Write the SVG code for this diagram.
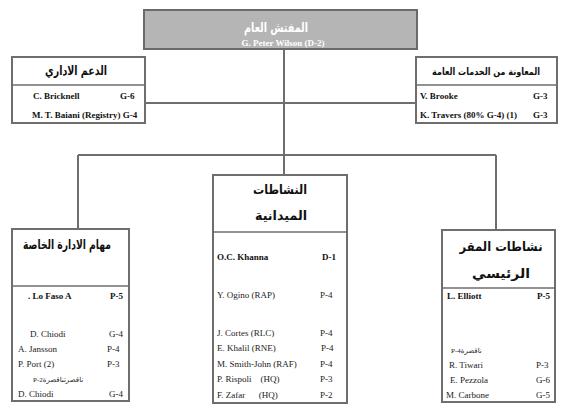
<svg xmlns="http://www.w3.org/2000/svg" width="567" height="413" viewBox="0 0 567 413">
<style>
.box{fill:#fff;stroke:#6e6e6e;stroke-width:2}
.div{stroke:#6e6e6e;stroke-width:1.5}
.ln{stroke:#6e6e6e;stroke-width:2;fill:none}
.ar{font-family:"DejaVu Sans",sans-serif;font-weight:bold;font-size:13px;fill:#111;text-anchor:middle}
.t{font-family:"Liberation Serif",serif;font-size:9px;fill:#222}
.b{font-family:"Liberation Serif",serif;font-size:9px;font-weight:bold;fill:#111}
.s{font-family:"Liberation Serif","DejaVu Sans",serif;font-size:7px;fill:#222}
</style>
<g id="connectors">
<line class="ln" x1="284" y1="50" x2="284" y2="155"/>
<line class="ln" x1="145" y1="103" x2="416" y2="103"/>
<line class="ln" x1="78" y1="155" x2="496" y2="155"/>
<line class="ln" x1="78" y1="155" x2="78" y2="229"/>
<line class="ln" x1="284" y1="155" x2="284" y2="175"/>
<line class="ln" x1="496" y1="155" x2="496" y2="230"/>
</g>
<g id="top">
<rect x="144" y="10" width="273" height="39" fill="#b5b5b5" stroke="#6a6a6a" stroke-width="2"/>
<text x="276" y="32" class="ar" style="fill:#fff" textLength="64" lengthAdjust="spacingAndGlyphs">المفتش العام</text>
<text x="283" y="46" class="b" text-anchor="middle" style="fill:#fff">G. Peter Wilson (D-2)</text>
</g>
<g id="admin">
<rect class="box" x="12" y="57" width="133" height="66"/>
<line class="div" x1="12" y1="85" x2="145" y2="85"/>
<text x="76" y="75" class="ar" textLength="62" lengthAdjust="spacingAndGlyphs">الدعم الاداري</text>
<text x="33" y="99" class="b">C.  Bricknell</text>
<text x="120" y="99" class="b">G-6</text>
<text x="32" y="118" class="b">M. T. Baiani (Registry) G-4</text>
</g>
<g id="general">
<rect class="box" x="416" y="57" width="141" height="66"/>
<line class="div" x1="416" y1="85" x2="557" y2="85"/>
<text x="486" y="75" class="ar" style="font-size:10px" textLength="108" lengthAdjust="spacingAndGlyphs">المعاونة من الخدمات العامة</text>
<text x="420" y="99" class="b">V.  Brooke</text>
<text x="533" y="99" class="b">G-3</text>
<text x="420" y="118" class="b">K. Travers (80% G-4) (1)</text>
<text x="533" y="118" class="b">G-3</text>
</g>
<g id="special">
<rect class="box" x="12" y="229" width="117" height="172"/>
<line class="div" x1="12" y1="286" x2="129" y2="286"/>
<text x="67" y="249" class="ar" textLength="88" lengthAdjust="spacingAndGlyphs">مهام الادارة الخاصة</text>
<text x="28" y="299" class="b">. Lo Faso A</text>
<text x="110" y="299" class="b">P-5</text>
<text x="30" y="337" class="t">D. Chiodi</text>
<text x="109" y="337" class="t">G-4</text>
<text x="18" y="352" class="t">A. Jansson</text>
<text x="107" y="352" class="t">P-4</text>
<text x="18" y="367" class="t">P. Port (2)</text>
<text x="107" y="367" class="t">P-3</text>
<text x="33" y="382" class="s">P-2ناقصرتناقصرة</text>
<text x="18" y="397" class="t">D. Chiodi</text>
<text x="109" y="397" class="t">G-4</text>
</g>
<g id="field">
<rect class="box" x="213" y="175" width="134" height="228"/>
<line class="div" x1="213" y1="232" x2="347" y2="232"/>
<text x="280" y="194" class="ar" textLength="54" lengthAdjust="spacingAndGlyphs">النشاطات</text>
<text x="281" y="220" class="ar" textLength="52" lengthAdjust="spacingAndGlyphs">الميدانية</text>
<text x="217" y="260" class="b">O.C. Khanna</text>
<text x="322" y="260" class="b">D-1</text>
<text x="217" y="298" class="t">Y. Ogino (RAP)</text>
<text x="320" y="298" class="t">P-4</text>
<text x="217" y="336" class="t">J. Cortes (RLC)</text>
<text x="320" y="336" class="t">P-4</text>
<text x="217" y="351" class="t">E. Khalil  (RNE)</text>
<text x="321" y="351" class="t">P-4</text>
<text x="217" y="367" class="t">M. Smith-John (RAF)</text>
<text x="320" y="367" class="t">P-4</text>
<text x="217" y="382" class="t" xml:space="preserve">P. Rispoli    (HQ)</text>
<text x="320" y="382" class="t">P-3</text>
<text x="217" y="398" class="t" xml:space="preserve">F. Zafar      (HQ)</text>
<text x="320" y="398" class="t">P-2</text>
</g>
<g id="hq">
<rect class="box" x="442" y="230" width="113" height="172"/>
<line class="div" x1="442" y1="288" x2="555" y2="288"/>
<text x="501" y="251" class="ar" textLength="83" lengthAdjust="spacingAndGlyphs">نشاطات المقر</text>
<text x="501" y="278" class="ar" textLength="58" lengthAdjust="spacingAndGlyphs">الرئيسي</text>
<text x="447" y="299" class="b">L. Elliott</text>
<text x="537" y="299" class="b">P-5</text>
<text x="451" y="353" class="s">P-4ناقصرة</text>
<text x="449" y="368" class="t">R. Tiwari</text>
<text x="536" y="368" class="t">P-3</text>
<text x="450" y="383" class="t">E. Pezzola</text>
<text x="536" y="383" class="t">G-6</text>
<text x="446" y="398" class="t">M. Carbone</text>
<text x="536" y="398" class="t">G-5</text>
</g>
</svg>
